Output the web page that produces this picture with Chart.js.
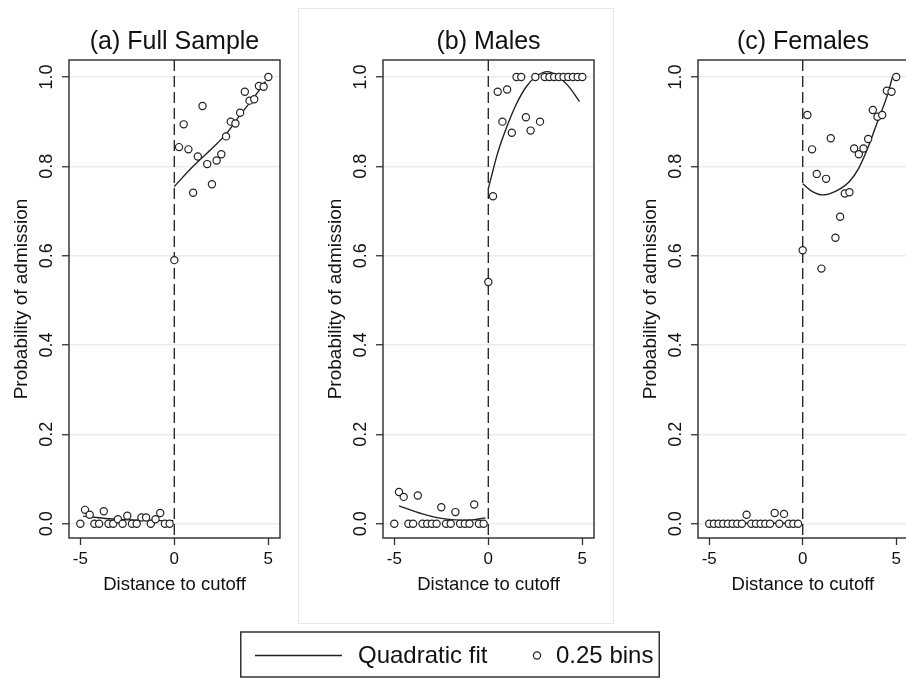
<!DOCTYPE html>
<html>
<head>
<meta charset="utf-8">
<script src="https://cdn.jsdelivr.net/npm/chart.js@4.4.0/dist/chart.umd.min.js"></script>
<style>
  html, body { margin: 0; padding: 0; background: #fff; overflow: hidden; width: 906px; height: 679px; }
  canvas { position: absolute; top: 0; }
</style>
</head>
<body>
<canvas id="panelA" width="314" height="625" style="left:-16px"></canvas>
<canvas id="panelB" width="420" height="679" style="left:240px"></canvas>
<canvas id="panelC" width="300" height="625" style="left:613px"></canvas>
<script>
// bins (0.25 wide) on each side of the cutoff
const binsLeftX = [-5, -4.75, -4.5, -4.25, -4, -3.75, -3.5, -3.25, -3, -2.75, -2.5, -2.25, -2, -1.75, -1.5, -1.25, -1, -0.75, -0.5, -0.25];
const binsRightX = [0, 0.25, 0.5, 0.75, 1, 1.25, 1.5, 1.75, 2, 2.25, 2.5, 2.75, 3, 3.25, 3.5, 3.75, 4, 4.25, 4.5, 4.75, 5];

const fullLeft = [0, 0.031, 0.02, 0, 0, 0.028, 0, 0, 0.01, 0, 0.018, 0, 0, 0.014, 0.014, 0, 0.01, 0.024, 0, 0];
const fullRight = [0.59, 0.843, 0.894, 0.838, 0.741, 0.822, 0.935, 0.805, 0.76, 0.813, 0.827, 0.867, 0.9, 0.896, 0.92, 0.967, 0.947, 0.95, 0.98, 0.978, 1.0];
const maleLeft = [0, 0.071, 0.06, 0, 0, 0.063, 0, 0, 0, 0, 0.037, 0, 0, 0.026, 0, 0, 0, 0.043, 0, 0];
const maleRight = [0.541, 0.733, 0.967, 0.9, 0.972, 0.875, 1, 1, 0.91, 0.88, 1, 0.9, 1, 1, 1, 1, 1, 1, 1, 1, 1];
const femaleLeft = [0, 0, 0, 0, 0, 0, 0, 0, 0.02, 0, 0, 0, 0, 0, 0.024, 0, 0.022, 0, 0, 0];
const femaleRight = [0.612, 0.915, 0.838, 0.783, 0.571, 0.772, 0.863, 0.64, 0.687, 0.739, 0.742, 0.84, 0.827, 0.84, 0.861, 0.926, 0.911, 0.915, 0.969, 0.967, 1.0];

// quadratic fit curves
const fullFitLeftX = [-4.85, -3.5, -2, -0.75, -0.05];
const fullFitLeftY = [0.017, 0.011, 0.008, 0.007, 0.007];
const fullFitRightX = [0, 1, 2, 2.75, 3.5, 4.25, 4.85];
const fullFitRightY = [0.755, 0.8, 0.84, 0.872, 0.915, 0.955, 0.99];
const maleFitLeftX = [-4.75, -3.5, -2.5, -1.5, -0.75, -0.15];
const maleFitLeftY = [0.04, 0.022, 0.012, 0.008, 0.009, 0.013];
const maleFitRightX = [0, 0.5, 1, 1.5, 2, 2.5, 3.15, 3.75, 4.25, 4.85];
const maleFitRightY = [0.75, 0.83, 0.89, 0.94, 0.977, 1.0, 1.012, 1.0, 0.98, 0.945];
const femaleFitLeftX = [-5, -2.5, -0.05];
const femaleFitLeftY = [0.001, 0.001, 0.001];
const femaleFitRightX = [0, 0.5, 1.05, 1.75, 2.5, 3, 3.5, 4, 4.5, 4.8];
const femaleFitRightY = [0.761, 0.744, 0.736, 0.744, 0.766, 0.796, 0.843, 0.9, 0.956, 1.0];

const xTicks = [-5, 0, 5];
const yTicks = [0, 0.2, 0.4, 0.6, 0.8, 1.0];
const xMin = -5.6, xMax = 5.62;
const yMin = -0.032, yMax = 1.038;

Chart.defaults.font.family = '"Liberation Sans", Arial, sans-serif';
Chart.defaults.color = '#111';

const ink = '#222';

const pts = (xs, ys) => xs.map((x, i) => ({ x: x, y: ys[i] }));

const framePlugin = {
  id: 'frame',
  afterDraw(chart) {
    const a = chart.chartArea;
    const ctx = chart.ctx;
    ctx.save();
    ctx.strokeStyle = '#2a2a2a';
    ctx.lineWidth = 1.4;
    ctx.strokeRect(a.left, a.top, a.right - a.left, a.bottom - a.top);
    ctx.restore();
  }
};

// light box behind panel (b) and the shared legend under it
const boxPlugin = {
  id: 'box',
  beforeDraw(chart) {
    const ctx = chart.ctx;
    ctx.save();
    ctx.fillStyle = '#fff';
    ctx.strokeStyle = '#e6e6e6';
    ctx.lineWidth = 1;
    ctx.fillRect(58.5, 8.5, 315, 615);
    ctx.strokeRect(58.5, 8.5, 315, 615);
    ctx.restore();
  },
  afterDraw(chart) {
    const ctx = chart.ctx;
    const ds = chart.data.datasets;
    ctx.save();
    ctx.strokeStyle = '#333';
    ctx.lineWidth = 1.5;
    ctx.strokeRect(0.75, 632, 418.5, 45);
    ctx.strokeStyle = ink;
    ctx.lineWidth = 1.3;
    ctx.beginPath();
    ctx.moveTo(15, 655.5);
    ctx.lineTo(102, 655.5);
    ctx.stroke();
    ctx.beginPath();
    ctx.arc(297, 655.5, 3.6, 0, Math.PI * 2);
    ctx.fillStyle = '#fff';
    ctx.fill();
    ctx.lineWidth = 1.2;
    ctx.stroke();
    ctx.font = '24px "Liberation Sans", Arial, sans-serif';
    ctx.fillStyle = '#111';
    ctx.textBaseline = 'middle';
    ctx.fillText(ds[1].label, 118, 656);
    ctx.fillText(ds[0].label, 316, 656);
    ctx.restore();
  }
};

function makePanel(id, title, left, right, fitL, fitR, pad, extra) {
  const lineStyle = {
    type: 'scatter', showLine: true, pointRadius: 0, borderColor: ink,
    borderWidth: 1.4, cubicInterpolationMode: 'monotone', order: 2
  };
  new Chart(document.getElementById(id), {
    type: 'scatter',
    data: {
      datasets: [
        {
          label: '0.25 bins',
          data: pts(binsLeftX, left).concat(pts(binsRightX, right)),
          pointRadius: 3.6, pointBorderWidth: 1.2, pointBorderColor: ink,
          pointBackgroundColor: '#fff', order: 0
        },
        Object.assign({ label: 'Quadratic fit', data: pts(fitL[0], fitL[1]) }, lineStyle),
        Object.assign({ label: 'Quadratic fit', data: pts(fitR[0], fitR[1]) }, lineStyle),
        {
          label: 'cutoff', data: [{ x: 0, y: yMax }, { x: 0, y: yMin }],
          showLine: true, pointRadius: 0, borderColor: '#2a2a2a', borderWidth: 1.4,
          borderDash: [11, 5], order: 3
        }
      ]
    },
    options: {
      responsive: false,
      animation: false,
      events: [],
      layout: { padding: pad },
      plugins: {
        legend: { display: false },
        tooltip: { enabled: false },
        title: {
          display: true, text: title, fullSize: false, color: '#111',
          font: { size: 25, weight: 'normal' }, padding: { top: 27, bottom: 3 }
        }
      },
      scales: {
        x: {
          type: 'linear', min: xMin, max: xMax,
          afterFit: (s) => { s.height = 87; },
          afterBuildTicks: (s) => { s.ticks = xTicks.map((v) => ({ value: v })); },
          grid: { drawOnChartArea: false, tickLength: 7, tickColor: '#333', tickWidth: 1.3 },
          border: { display: false },
          ticks: { maxRotation: 0, font: { size: 17 }, color: '#111', padding: 4,
                   callback: (v) => String(v) },
          title: { display: true, text: 'Distance to cutoff', color: '#111',
                   font: { size: 18.5 }, padding: { top: 0, bottom: 29 } }
        },
        y: {
          type: 'linear', min: yMin, max: yMax,
          afterFit: (s) => { s.width = 85; },
          afterBuildTicks: (s) => { s.ticks = yTicks.map((v) => ({ value: v })); },
          grid: { color: '#ebebeb', lineWidth: 1.5, tickLength: 7, tickColor: '#333', tickWidth: 1.3 },
          border: { display: false },
          ticks: { minRotation: 90, maxRotation: 90, crossAlign: 'center', padding: 2,
                   font: { size: 18 }, color: '#111', callback: (v) => v.toFixed(1) },
          title: { display: true, text: 'Probability of admission', color: '#111',
                   font: { size: 19 }, padding: { top: 26, bottom: 0 } }
        }
      }
    },
    plugins: extra ? [framePlugin, extra] : [framePlugin]
  });
}

makePanel('panelA', '(a) Full Sample', fullLeft, fullRight,
  [fullFitLeftX, fullFitLeftY], [fullFitRightX, fullFitRightY],
  { left: 0, right: 18, top: 0, bottom: 0 });
makePanel('panelB', '(b) Males', maleLeft, maleRight,
  [maleFitLeftX, maleFitLeftY], [maleFitRightX, maleFitRightY],
  { left: 58, right: 66, top: 0, bottom: 54 }, boxPlugin);
makePanel('panelC', '(c) Females', femaleLeft, femaleRight,
  [femaleFitLeftX, femaleFitLeftY], [femaleFitRightX, femaleFitRightY],
  { left: 0, right: 3, top: 0, bottom: 0 });
</script>
</body>
</html>
